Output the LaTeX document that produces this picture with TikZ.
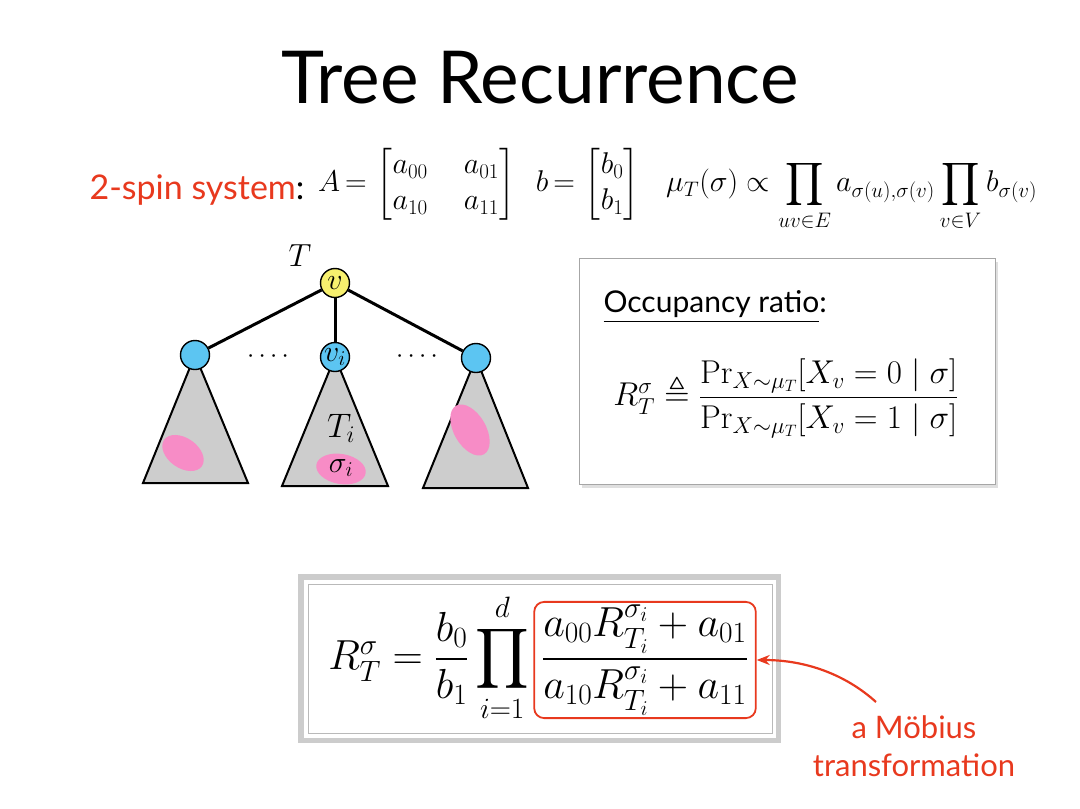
\RequirePackage{fix-cm}
\documentclass[tikz,border=0pt]{standalone}
\usepackage{amsmath,amssymb}
\usepackage[no-math]{fontspec}
\setmainfont{Lato}
\usetikzlibrary{arrows.meta}
\definecolor{myred}{HTML}{E8391E}
\definecolor{myblue}{HTML}{5CC5F2}
\definecolor{myyellow}{HTML}{F7F06E}
\definecolor{mygray}{HTML}{CDCDCD}
\definecolor{mypink}{HTML}{F78CC6}
\tikzset{
  vtx/.style={circle,draw,line width=1.4pt,minimum size=29pt,inner sep=0pt,font=\fontsize{30}{32}\selectfont},
  rootv/.style={vtx,fill=myyellow},
  childv/.style={vtx,fill=myblue},
  edge/.style={line width=3pt},
  subtree/.style={draw,line width=2pt,fill=mygray,line join=miter},
  blob/.style={fill=mypink,draw=none},
  dotsl/.style={font=\fontsize{26}{26}\selectfont},
  arrowred/.style={myred,line width=2.2pt,-{Stealth[length=13pt,width=10pt]}},
}
\begin{document}
\begin{tikzpicture}[x=1pt,y=-1pt]
\useasboundingbox (0,0) rectangle (1080,809);
% title
\node[font=\fontsize{73}{80}\selectfont] (title) at (540,78) {Tree Recurrence};
% 2-spin line
\node[anchor=west,font=\fontsize{34}{38}\selectfont] (spin) at (86,190) {\textcolor{myred}{2-spin system}:};
\node[anchor=west,inner sep=0pt,font=\fontsize{30}{36}\selectfont] (formA) at (318,190)
  {\setlength\arraycolsep{18pt}$A\,{=}\,\begin{bmatrix}a_{00} & a_{01}\\ a_{10} & a_{11}\end{bmatrix}\hspace{16pt}
     b\,{=}\,\begin{bmatrix}b_0\\ b_1\end{bmatrix}\hspace{22pt}
     \mu_T(\sigma)\propto\displaystyle\prod_{uv\in E}a_{\sigma(u),\sigma(v)}\prod_{v\in V}b_{\sigma(v)}$};
% tree
\node[font=\fontsize{32}{36}\selectfont] (Tlab) at (300,256) {$T$};
\coordinate (p1) at (195,355);
\coordinate (p2) at (335,357);
\coordinate (p3) at (476,358);
\draw[subtree] (p1) -- (143,483) -- (248,483) -- cycle;
\draw[subtree] (p2) -- (282,486) -- (388,486) -- cycle;
\draw[subtree] (p3) -- (423,488) -- (528,488) -- cycle;
\fill[blob,rotate around={-35:(183,453)}] (183,453) ellipse (23pt and 15pt);
\fill[blob,rotate around={-10:(341,469)}] (341,469) ellipse (25pt and 15pt);
\fill[blob,rotate around={-60:(470,430)}] (470,430) ellipse (28pt and 16pt);
\node[inner sep=0pt,font=\fontsize{34}{38}\selectfont] (Ti) at (341,428) {$T_i$};
\node[inner sep=0pt,font=\fontsize{30}{34}\selectfont] (si) at (341,468) {$\sigma_i$};
\node[rootv] (v) at (335,283) {$v$};
\node[childv] (c1) at (p1) {};
\node[childv] (c2) at (p2) {$v_i$};
\node[childv] (c3) at (p3) {};
\draw[edge] (v) -- (c1);
\draw[edge] (v) -- (c2);
\draw[edge] (v) -- (c3);
\node[dotsl] (d1) at (268,357) {$\cdots\cdot$};
\node[dotsl] (d2) at (417,357) {$\cdots\cdot$};
% occupancy box
\fill[gray!25] (582,262) rectangle (998,488);
\draw[gray!70,fill=white,line width=0.8pt] (579,258) rectangle (995,484);
\node[anchor=base west,font=\fontsize{30}{34}\selectfont] (occ) at (600,312) {\underline{Occupancy ratio}:};
\node[font=\fontsize{33}{38}\selectfont] (ratio) at (786,398)
  {$R_T^{\sigma}\triangleq\dfrac{\Pr_{X\sim\mu_T}[X_v=0\mid\sigma]}{\Pr_{X\sim\mu_T}[X_v=1\mid\sigma]}$};
% recurrence box
\draw[gray!40,line width=5.5pt] (301,577) rectangle (778.5,740.5);
\draw[gray!55,line width=1pt] (308,584) rectangle (772,733);
\node[draw=myred,line width=1.8pt,rounded corners=10pt,inner xsep=8pt,inner ysep=3pt,font=\fontsize{42}{48}\selectfont] (frac) at (645,660)
  {$\dfrac{a_{00}R_{T_i}^{\sigma_i}+a_{01}}{a_{10}R_{T_i}^{\sigma_i}+a_{11}}$};
\node[anchor=base east,inner xsep=4pt,inner ysep=1pt,font=\fontsize{42}{48}\selectfont] (lhs) at (frac.base west)
  {$R_T^{\sigma}=\dfrac{b_0}{b_1}\displaystyle\prod_{i=1}^{d}$};
% moebius label
\node[align=center,text=myred,font=\fontsize{31}{38}\selectfont] (mob) at (914,746) {a Möbius\\transformation};
\coordinate (arrstart) at (876,702);
\draw[arrowred] (arrstart) .. controls (845,674) and (805,660) .. (frac.east);
\end{tikzpicture}
\end{document}
